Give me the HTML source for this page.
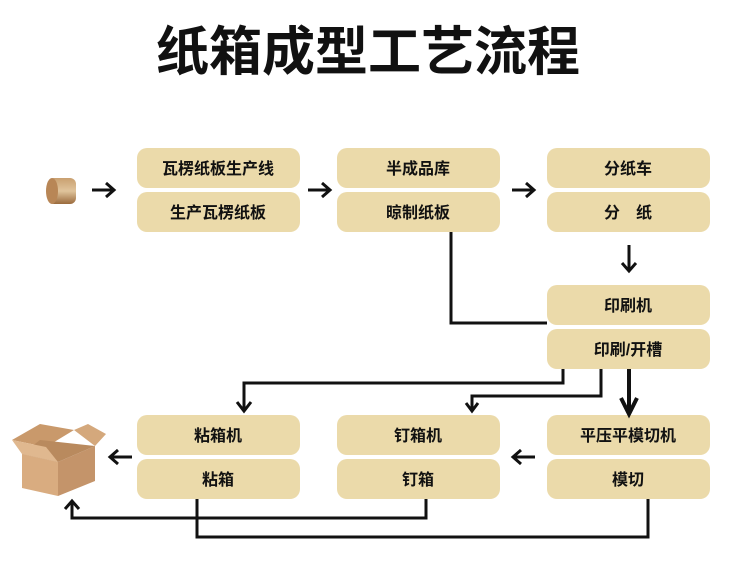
<!DOCTYPE html>
<html><head><meta charset="utf-8"><style>
html,body{margin:0;padding:0;background:#fff;}
svg{display:block}
text{font-family:"Liberation Sans","Noto Sans CJK SC",sans-serif;font-weight:bold;}
</style></head><body>
<svg width="749" height="569" viewBox="0 0 749 569" xmlns="http://www.w3.org/2000/svg">
<defs>
<linearGradient id="roll" x1="0" y1="0" x2="0" y2="1"><stop offset="0" stop-color="#c9a070"/><stop offset="0.5" stop-color="#e0c49c"/><stop offset="1" stop-color="#9a6a3c"/></linearGradient>
</defs>
<text x="368" y="70" font-size="53" text-anchor="middle" fill="#111">纸箱成型工艺流程</text>
<g fill="#ebdaaa">
<rect x="137" y="148" width="163" height="40" rx="10"/>
<rect x="137" y="192" width="163" height="40" rx="10"/>
<rect x="337" y="148" width="163" height="40" rx="10"/>
<rect x="337" y="192" width="163" height="40" rx="10"/>
<rect x="547" y="148" width="163" height="40" rx="10"/>
<rect x="547" y="192" width="163" height="40" rx="10"/>
<rect x="547" y="285" width="163" height="40" rx="10"/>
<rect x="547" y="329" width="163" height="40" rx="10"/>
<rect x="137" y="415" width="163" height="40" rx="10"/>
<rect x="137" y="459" width="163" height="40" rx="10"/>
<rect x="337" y="415" width="163" height="40" rx="10"/>
<rect x="337" y="459" width="163" height="40" rx="10"/>
<rect x="547" y="415" width="163" height="40" rx="10"/>
<rect x="547" y="459" width="163" height="40" rx="10"/>
</g>
<g font-size="16" fill="#111" text-anchor="middle">
<text x="218" y="174">瓦楞纸板生产线</text>
<text x="218" y="218">生产瓦楞纸板</text>
<text x="418" y="174">半成品库</text>
<text x="418" y="218">晾制纸板</text>
<text x="628" y="174">分纸车</text>
<text x="628" y="218">分　纸</text>
<text x="628" y="311">印刷机</text>
<text x="628" y="355">印刷/开槽</text>
<text x="218" y="441">粘箱机</text>
<text x="218" y="485">粘箱</text>
<text x="418" y="441">钉箱机</text>
<text x="418" y="485">钉箱</text>
<text x="628" y="441">平压平模切机</text>
<text x="628" y="485">模切</text>
</g>
<!-- roll -->
<rect x="48" y="178" width="28" height="26" rx="6" fill="url(#roll)"/>
<ellipse cx="52" cy="191" rx="6" ry="13" fill="#b88656"/>
<g stroke="#111" stroke-width="3" fill="none">
<path d="M92 190 H113 M106 183 L114 190 L106 197"/>
<path d="M308 190 H329 M322 183 L330 190 L322 197"/>
<path d="M512 190 H533 M526 183 L534 190 L526 197"/>
<path d="M629 245 V270 M622 263 L629 271 L636 263"/>
<path d="M451 232 V323 H547"/>
<path d="M563 369 V383 H244 V410 M237 402 L244 411 L251 402"/>
<path d="M601 369 V396 H472 V410 M466 403 L472 411 L478 403"/>
<path d="M132 457 H111 M118 450 L110 457 L118 464"/>
<path d="M535 457 H514 M521 450 L513 457 L521 464"/>
<path d="M197 499 V537 H648 V499"/>
<path d="M426 499 V518 H72 V502 M65 509 L72 501 L79 509"/>
</g>
<path d="M629 369 V410 M621 398 L629 414 L637 398" stroke="#111" stroke-width="4" fill="none"/>
<!-- box -->
<g>
<polygon points="12,440 40,424 74,430 46,447" fill="#c9996b"/>
<polygon points="22,454 58,462 58,496 22,488" fill="#d9ac80"/>
<polygon points="58,462 95,446 95,481 58,496" fill="#c4946a"/>
<polygon points="22,454 40,440 95,446 58,462" fill="#b98a5e"/>
<polygon points="74,430 95,446 106,434 88,424" fill="#d4a87c"/>
<polygon points="12,440 22,454 58,462 46,447" fill="#e0b88f"/>
</g>
</svg>
</body></html>
